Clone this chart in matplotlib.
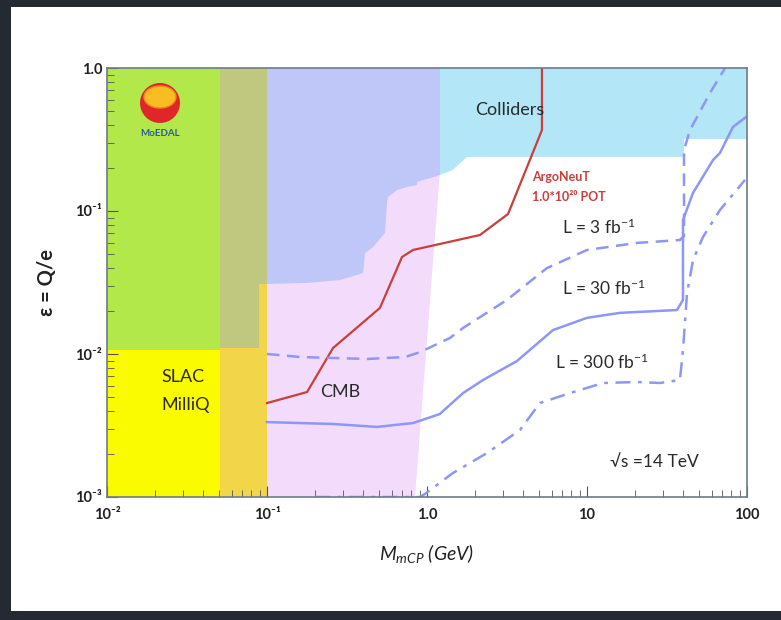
import numpy as np
import matplotlib.pyplot as plt
from matplotlib.patches import Polygon, Ellipse, Rectangle

plt.rcParams['font.family'] = ['Lato', 'DejaVu Sans']
plt.rcParams['mathtext.fontset'] = 'custom'
plt.rcParams['mathtext.rm'] = 'Lato'
plt.rcParams['mathtext.it'] = 'Lato:italic'
plt.rcParams['mathtext.bf'] = 'Lato:bold'
plt.rcParams['mathtext.default'] = 'regular'

# excluded regions (mass GeV, epsilon)
green_m = [0.01, 0.0508, 0.0508, 0.01]
green_e = [0.0107, 0.0107, 1.0, 1.0]
khaki_m = [0.0508, 0.1, 0.1, 0.0508]
khaki_e = [0.011, 0.011, 1.0, 1.0]
yellow_m = [0.01, 0.0508, 0.0508, 0.01]
yellow_e = [0.001, 0.001, 0.0107, 0.0107]
gold_m = [0.0508, 0.1, 0.1, 0.0891, 0.0891, 0.0508]
gold_e = [0.001, 0.001, 0.0309, 0.0309, 0.011, 0.011]
cmb_m = [0.1, 0.841, 1.35, 0.1]
cmb_e = [0.001, 0.001, 1.0, 1.0]
blue_m = [0.1, 1.205, 1.205, 1.045, 0.866, 0.866, 0.75, 0.649, 0.570, 0.562,
          0.546, 0.460, 0.410, 0.398, 0.286, 0.178, 0.1]
blue_e = [1.0, 1.0, 0.1786, 0.170, 0.1595, 0.152, 0.147, 0.140, 0.125, 0.1138,
          0.0702, 0.056, 0.0508, 0.0368, 0.0329, 0.0314, 0.0309]
coll_m = [1.205, 100, 100, 40.4, 40.4, 1.778, 1.45, 1.205]
coll_e = [1.0, 1.0, 0.319, 0.319, 0.239, 0.239, 0.1936, 0.1786]

# ArgoNeuT limit
argo_m = [0.1, 0.178, 0.2585, 0.508, 0.698, 0.818, 2.14, 3.21, 5.23, 5.23]
argo_e = [0.00454, 0.00542, 0.0110, 0.0210, 0.0477, 0.0534, 0.0679, 0.0953, 0.368, 1.0]

# LHC sensitivity curves
l3_m = [0.1, 0.161, 0.422, 0.729, 0.904, 1.39, 1.68, 3.16, 5.62, 10, 20.5, 38.1,
        40.4, 40.4, 44.0, 58.7, 73.0]
l3_e = [0.0100, 0.00953, 0.00923, 0.00953, 0.0103, 0.01294, 0.0152, 0.0239, 0.0399,
        0.0534, 0.0598, 0.0627, 0.0669, 0.267, 0.368, 0.669, 1.0]
l30_m = [0.1, 0.2585, 0.487, 0.818, 1.2, 1.68, 2.24, 3.65, 6.13, 10, 16.1, 36.5,
         39.8, 39.8, 46.0, 61.3, 67.8, 81.7, 98.6]
l30_e = [0.00334, 0.00324, 0.00309, 0.00329, 0.00380, 0.00533, 0.00658, 0.00893,
         0.0147, 0.0179, 0.0194, 0.0203, 0.0239, 0.0865, 0.134, 0.227, 0.255, 0.387, 0.454]
l300_m = [0.2, 0.9, 0.972, 1.45, 2.37, 3.81, 5.08, 7.83, 12.6, 20.5, 28.6, 38.1,
          39.8, 42.2, 46.0, 53.1, 67.8, 97.2]
l300_e = [0.001, 0.001, 0.00105, 0.00147, 0.00203, 0.00294, 0.00454, 0.00533, 0.00627,
          0.00637, 0.00627, 0.00658, 0.01067, 0.0267, 0.0454, 0.0658, 0.1017, 0.165]

xticks = [0.01, 0.1, 1.0, 10, 100]
xlabels = ['10⁻²', '10⁻¹', '1.0', '10', '100']
yticks = [0.001, 0.01, 0.1, 1.0]
ylabels = ['10⁻³', '10⁻²', '10⁻¹', '1.0']

fig = plt.figure(figsize=(7.81, 6.20), dpi=100, facecolor='#242a32')
fig.add_artist(Rectangle((11/781, 9/620), 1, 1 - 16/620, transform=fig.transFigure,
                         facecolor='white', edgecolor='none', zorder=-5))
ax = fig.add_axes([107/781, 1 - 497/620, 640/781, 429/620])

def region(m, e, c):
    ax.add_patch(Polygon(np.column_stack([m, e]), closed=True, facecolor=c,
                         edgecolor='none', zorder=1))

region(cmb_m, cmb_e, '#f3dbfb')
region(coll_m, coll_e, '#b3e6f6')
region(blue_m, blue_e, '#bfc6f8')
region(green_m, green_e, '#b2e84a')
region(khaki_m, khaki_e, '#c0c77f')
region(yellow_m, yellow_e, '#fafa00')
region(gold_m, gold_e, '#f2d548')

blue = '#8e96f6'
ax.plot(argo_m, argo_e, color='#c93f3a', lw=1.6, zorder=3)
ax.plot(l3_m, l3_e, color=blue, lw=1.8, dashes=(5, 3), zorder=3)
ax.plot(l30_m, l30_e, color=blue, lw=1.8, zorder=3)
ax.plot(l300_m, l300_e, color=blue, lw=1.8, dashes=(6, 3, 1.5, 3), zorder=3)

ax.set_xscale('log')
ax.set_yscale('log')
ax.set_xlim(0.01, 100)
ax.set_ylim(0.001, 1.0)
ax.set_xticks(xticks)
ax.set_xticklabels(xlabels)
ax.set_yticks(yticks)
ax.set_yticklabels(ylabels)
ax.tick_params(which='both', direction='in', colors='#555555', labelcolor='#222222',
               labelsize=10.5)
ax.tick_params(which='major', length=8)
ax.tick_params(which='minor', length=5)
for lab in ax.get_xticklabels() + ax.get_yticklabels():
    lab.set_fontweight('bold')
ax.tick_params(axis='x', pad=8)
for s in ax.spines.values():
    s.set_color('#6f7c88')
    s.set_linewidth(1.2)
    s.set_zorder(4)

ax.set_xlabel('$M_{mCP}$ (GeV)', fontsize=14, style='italic', color='#222222', labelpad=14)
ax.set_ylabel('ε = Q/e', fontsize=14.5, fontweight='bold', color='#222222', labelpad=13)

# annotations
dark = '#2a2a2a'
ax.text(3.30, 0.508, 'Colliders', fontsize=13, color=dark, ha='center', va='center', zorder=5)
ax.text(4.53, 0.173, 'ArgoNeuT', fontsize=9, color='#c93f3a', fontweight='bold',
        va='center', zorder=5)
ax.text(4.53, 0.125, '1.0*10²⁰ POT', fontsize=9, color='#c93f3a',
        fontweight='bold', va='center', zorder=5)
ax.text(6.98, 0.0773, 'L = 3 fb$^{-1}$', fontsize=12.5, color=dark, va='center', zorder=5)
ax.text(6.98, 0.029, 'L = 30 fb$^{-1}$', fontsize=12.5, color=dark, va='center', zorder=5)
ax.text(6.31, 0.00879, 'L = 300 fb$^{-1}$', fontsize=12.5, color=dark, va='center', zorder=5)
ax.text(13.9, 0.00176, '√s =14 TeV', fontsize=12.5, color=dark, va='center', zorder=5)
ax.text(0.0218, 0.0069, 'SLAC', fontsize=13, color=dark, va='center', zorder=5)
ax.text(0.0218, 0.0044, 'MilliQ', fontsize=13, color=dark, va='center', zorder=5)
ax.text(0.214, 0.00542, 'CMB', fontsize=13, color=dark, va='center', zorder=5)

# MoEDAL logo
ax.add_patch(Ellipse((53/640, 1 - 35/429), 40/640, 40/429, transform=ax.transAxes,
                     facecolor='#e0262b', edgecolor='none', zorder=5))
ax.add_patch(Ellipse((53/640, 1 - 29/429), 32/640, 22/429, transform=ax.transAxes,
                     facecolor='#f7bd22', edgecolor='#f08a1c', lw=1, zorder=6))
ax.text(53/640, 1 - 65/429, 'MoEDAL', transform=ax.transAxes, fontsize=7,
        fontweight='bold', color='#2d5a96', ha='center', va='center', zorder=6)

fig.savefig('out.png', dpi=100, facecolor=fig.get_facecolor())
